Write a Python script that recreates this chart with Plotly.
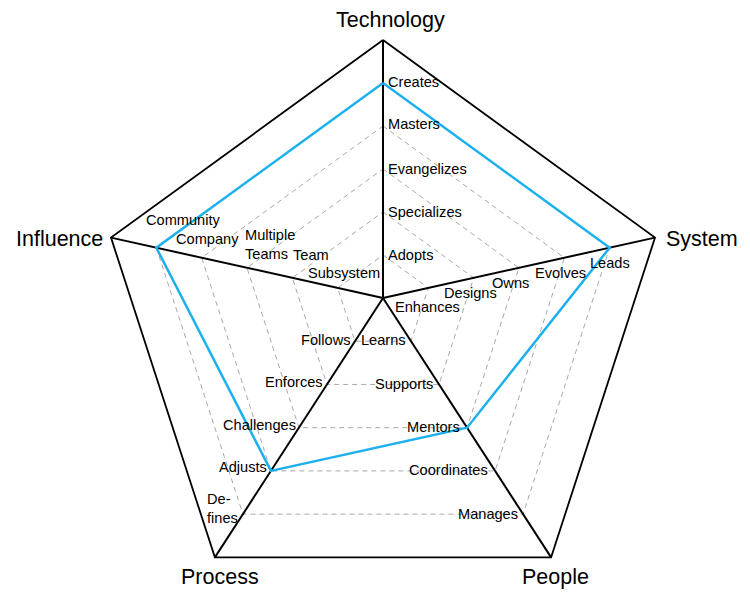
import math
import plotly.graph_objects as go

# ---------------- data ----------------
axis_names = ["Technology", "System", "People", "Process", "Influence"]
tech_levels = ["Adopts", "Specializes", "Evangelizes", "Masters", "Creates"]
system_levels = ["Enhances", "Designs", "Owns", "Evolves", "Leads"]
people_levels = ["Learns", "Supports", "Mentors", "Coordinates", "Manages"]
process_levels = ["Follows", "Enforces", "Challenges", "Adjusts", "De-<br>fines"]
influence_levels = ["Subsystem", "Team", "Multiple<br>Teams", "Company", "Community"]
scores = [5, 5, 3, 4, 5]          # Technology, System, People, Process, Influence
max_level = 6

level_labels = [tech_levels, system_levels, people_levels, process_levels, influence_levels]

# ---------------- geometry (layout) ----------------
angles_deg = [90, 18, -54, -126, 162]
hub = (0.0, 0.098)
vertices = [(math.cos(math.radians(a)), math.sin(math.radians(a))) for a in angles_deg]


def pos(axis, value):
    vx, vy = vertices[axis]
    f = value / max_level
    return hub[0] + f * (vx - hub[0]), hub[1] + f * (vy - hub[1])


fig = go.Figure()

# dashed level rings
gx, gy = [], []
for lvl in range(1, max_level):
    for i in range(len(axis_names) + 1):
        x, y = pos(i % len(axis_names), lvl)
        gx.append(x)
        gy.append(y)
    gx.append(None)
    gy.append(None)
fig.add_trace(go.Scatter(x=gx, y=gy, mode="lines", hoverinfo="skip",
                         line=dict(color="#a8a8a8", width=1, dash="5px,4px")))

# spokes
sx, sy = [], []
for i in range(len(axis_names)):
    x0, y0 = pos(i, 0)
    x1, y1 = pos(i, max_level)
    sx += [x0, x1, None]
    sy += [y0, y1, None]
fig.add_trace(go.Scatter(x=sx, y=sy, mode="lines", hoverinfo="skip",
                         line=dict(color="black", width=2)))

# outer pentagon
ox, oy = [], []
for i in range(len(axis_names) + 1):
    x, y = pos(i % len(axis_names), max_level)
    ox.append(x)
    oy.append(y)
fig.add_trace(go.Scatter(x=ox, y=oy, mode="lines", hoverinfo="skip",
                         line=dict(color="black", width=1.8)))

# score polygon
px, py = [], []
for i in range(len(axis_names) + 1):
    x, y = pos(i % len(axis_names), scores[i % len(axis_names)])
    px.append(x)
    py.append(y)
fig.add_trace(go.Scatter(x=px, y=py, mode="lines", hoverinfo="skip",
                         line=dict(color="#1cb1ee", width=2.5)))

# ---------------- label placement (styling) ----------------
lab_font = dict(family="Liberation Sans, Arial, sans-serif", size=14.6, color="black")
name_font = dict(family="Liberation Sans, Arial, sans-serif", size=21.5, color="black")

# per-axis: xanchor, list of (xshift, yshift) for each level
label_style = [
    ("left", [(3, 0), (3, 0), (3, 0), (3, 2), (3, 1)]),
    ("center", [(-1, -19), (-3, -15), (-9, -15), (-4, -15), (0, -15)]),
    ("right", [(-3, 1), (-4, 0), (-5, 1), (-5, 1), (-3, 0)]),
    ("right", [(-3, 1), (-2, 2), (-1, 3), (-2, 4), (-3, 6)]),
    ("center", [(6, 15), (19, 23), (23, 23), (6, 19), (27, 28)]),
]

annotations = []
for i, labels in enumerate(level_labels):
    xa, shifts = label_style[i]
    for k, text in enumerate(labels):
        x, y = pos(i, k + 1)
        annotations.append(dict(x=x, y=y, text=text, showarrow=False,
                                xanchor=xa, yanchor="middle",
                                xshift=shifts[k][0], yshift=shifts[k][1],
                                font=lab_font, align="left"))

name_style = [
    ("center", "bottom", 7, 6),
    ("left", "middle", 9, -1),
    ("center", "top", 4, -6),
    ("center", "top", 5, -6),
    ("right", "middle", -6, -1),
]
for i, name in enumerate(axis_names):
    x, y = pos(i, max_level)
    xa, ya, xs, ys = name_style[i]
    annotations.append(dict(x=x, y=y, text=name, showarrow=False,
                            xanchor=xa, yanchor=ya, xshift=xs, yshift=ys,
                            font=name_font))

W, H = 750, 604
scale = 286.0
cx, cy = 375.0, 318.0   # compensates the page's 8px body margin
fig.update_layout(
    width=W, height=H, autosize=False,
    margin=dict(l=0, r=0, t=0, b=0),
    paper_bgcolor="white", plot_bgcolor="white",
    showlegend=False,
    xaxis=dict(range=[-cx / scale, (W - cx) / scale], visible=False, fixedrange=True),
    yaxis=dict(range=[-(H - cy) / scale, cy / scale], visible=False, fixedrange=True),
    annotations=annotations,
)

fig.write_html("out.html", config={"displayModeBar": False})
